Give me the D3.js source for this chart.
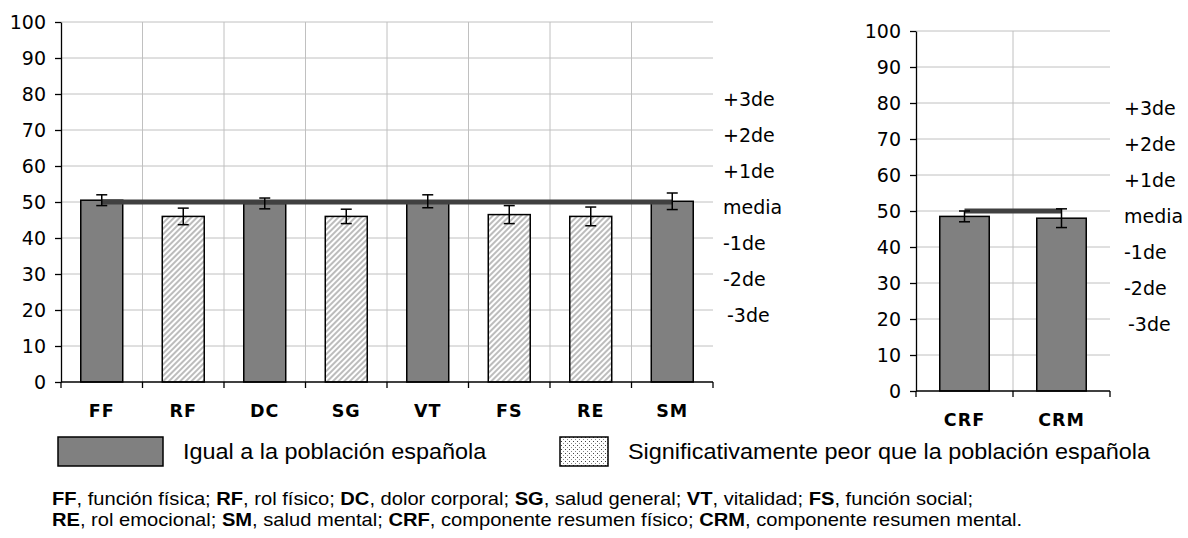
<!DOCTYPE html>
<html>
<head>
<meta charset="utf-8">
<script src="https://cdn.jsdelivr.net/npm/d3@7"></script>
<style>
  body { margin: 0; background: #fff; }
  svg text { fill: #000; }
</style>
</head>
<body>
<div id="chart"></div>
<script>
// dimensiones del cuestionario SF-36
const categories = ['FF', 'RF', 'DC', 'SG', 'VT', 'FS', 'RE', 'SM'];
const values = [50.5, 46, 49.6, 46, 50.2, 46.5, 46, 50.2];
const errors = [1.5, 2.3, 1.5, 2.0, 1.8, 2.5, 2.6, 2.3];
const groups = ['igual', 'peor', 'igual', 'peor', 'igual', 'peor', 'peor', 'igual'];

// componentes resumen
const summaryCategories = ['CRF', 'CRM'];
const summaryValues = [48.5, 48];
const summaryErrors = [1.5, 2.6];
const summaryGroups = ['igual', 'igual'];

const yTicks = [0, 10, 20, 30, 40, 50, 60, 70, 80, 90, 100];
const sdLabels = ['+3de', '+2de', '+1de', 'media', '-1de', '-2de', '-3de'];
const sdValues = [80, 70, 60, 50, 40, 30, 20];
const meanValue = 50;

const legendLabels = ['Igual a la población española', 'Significativamente peor que la población española'];
const footerLines = [
  [['FF', ', función física; '], ['RF', ', rol físico; '], ['DC', ', dolor corporal; '], ['SG', ', salud general; '], ['VT', ', vitalidad; '], ['FS', ', función social;']],
  [['RE', ', rol emocional; '], ['SM', ', salud mental; '], ['CRF', ', componente resumen físico; '], ['CRM', ', componente resumen mental.']]
];

const W = 1188, H = 538;
const svg = d3.select('#chart').append('svg')
  .attr('width', W)
  .attr('height', H);

const defs = svg.append('defs');
defs.append('pattern')
  .attr('id', 'hatch')
  .attr('patternUnits', 'userSpaceOnUse')
  .attr('width', 4).attr('height', 4)
  .attr('patternTransform', 'rotate(45)')
  .call(p => {
    p.append('rect').attr('width', 4).attr('height', 4).attr('fill', '#fff');
    p.append('line').attr('x1', 1).attr('y1', 0).attr('x2', 1).attr('y2', 4)
      .attr('stroke', '#a0a0a0').attr('stroke-width', 1.4);
  });
defs.append('pattern')
  .attr('id', 'dots')
  .attr('patternUnits', 'userSpaceOnUse')
  .attr('width', 4).attr('height', 4)
  .call(p => {
    p.append('rect').attr('width', 4).attr('height', 4).attr('fill', '#fff');
    p.append('rect').attr('x', 1).attr('y', 1).attr('width', 1).attr('height', 1).attr('fill', '#444');
    p.append('rect').attr('x', 3).attr('y', 3).attr('width', 1).attr('height', 1).attr('fill', '#888');
  });

const fillFor = g => g === 'peor' ? 'url(#hatch)' : '#808080';

function drawPanel(cfg) {
  const { x0, x1, yTop, yBottom, cats, vals, errs, grps, pad, labelX } = cfg;

  const x = d3.scaleBand().domain(cats).range([x0, x1])
    .paddingInner(pad).paddingOuter(pad / 2);
  const y = d3.scaleLinear().domain([0, 100]).range([yBottom, yTop]);
  const g = svg.append('g');

  // rejilla
  g.append('g').selectAll('line.h')
    .data(yTicks.filter(t => t > 0))
    .join('line')
    .attr('x1', x0).attr('x2', x1)
    .attr('y1', d => y(d)).attr('y2', d => y(d))
    .attr('stroke', '#c0c0c0').attr('stroke-width', 1);
  const bounds = d3.range(1, cats.length).map(i => x0 + i * x.step());
  g.append('g').selectAll('line.v')
    .data(bounds)
    .join('line')
    .attr('x1', d => d).attr('x2', d => d)
    .attr('y1', yTop).attr('y2', yBottom)
    .attr('stroke', '#c0c0c0').attr('stroke-width', 1);

  // eje y
  const yAxis = g.append('g')
    .attr('transform', `translate(${x0},0)`)
    .call(d3.axisLeft(y).tickValues(yTicks).tickSize(6).tickPadding(9).tickSizeOuter(0));
  yAxis.select('.domain').attr('stroke', '#000').attr('stroke-width', 1.3);
  yAxis.selectAll('.tick line').attr('stroke', '#000').attr('stroke-width', 1.3);
  yAxis.selectAll('.tick text')
    .attr('font-family', 'DejaVu Sans, Verdana, sans-serif')
    .attr('font-size', 19)
    .attr('fill', '#000');

  // barras
  g.append('g').selectAll('rect')
    .data(cats)
    .join('rect')
    .attr('x', d => x(d))
    .attr('width', x.bandwidth())
    .attr('y', (d, i) => y(vals[i]))
    .attr('height', (d, i) => y(0) - y(vals[i]))
    .attr('fill', (d, i) => fillFor(grps[i]))
    .attr('stroke', '#000')
    .attr('stroke-width', 1.5);

  // eje x
  g.append('line')
    .attr('x1', x0).attr('x2', x1)
    .attr('y1', y(0)).attr('y2', y(0))
    .attr('stroke', '#000').attr('stroke-width', 1.3);
  g.append('g').selectAll('line')
    .data(d3.range(0, cats.length + 1).map(i => x0 + i * x.step()))
    .join('line')
    .attr('x1', d => d).attr('x2', d => d)
    .attr('y1', y(0)).attr('y2', y(0) + 6)
    .attr('stroke', '#000').attr('stroke-width', 1.3);
  g.append('g').selectAll('text')
    .data(cats)
    .join('text')
    .attr('x', d => x(d) + x.bandwidth() / 2)
    .attr('y', y(0) + 29)
    .attr('text-anchor', 'middle')
    .attr('dominant-baseline', 'central')
    .attr('font-family', 'DejaVu Sans, Verdana, sans-serif')
    .attr('font-weight', 'bold')
    .attr('font-size', 17.5)
    .attr('letter-spacing', 1)
    .text(d => d);

  // línea de la media
  const cx = d => x(d) + x.bandwidth() / 2;
  g.append('line')
    .attr('x1', cx(cats[0])).attr('x2', cx(cats[cats.length - 1]))
    .attr('y1', y(meanValue)).attr('y2', y(meanValue))
    .attr('stroke', '#404040')
    .attr('stroke-width', 5);

  // barras de error
  const eb = g.append('g').selectAll('g')
    .data(cats)
    .join('g')
    .attr('stroke', '#000')
    .attr('stroke-width', 1.5);
  eb.append('line')
    .attr('x1', d => cx(d)).attr('x2', d => cx(d))
    .attr('y1', (d, i) => y(vals[i] + errs[i]))
    .attr('y2', (d, i) => y(vals[i] - errs[i]));
  [1, -1].forEach(s => {
    eb.append('line')
      .attr('x1', d => cx(d) - 5.5).attr('x2', d => cx(d) + 5.5)
      .attr('y1', (d, i) => y(vals[i] + s * errs[i]))
      .attr('y2', (d, i) => y(vals[i] + s * errs[i]));
  });

  // etiquetas de desviación estándar
  g.append('g').selectAll('text')
    .data(sdLabels)
    .join('text')
    .attr('x', (d, i) => labelX + (d === '-3de' ? 4 : 0))
    .attr('y', (d, i) => y(sdValues[i]) + 5)
    .attr('dominant-baseline', 'central')
    .attr('font-family', 'DejaVu Sans, Verdana, sans-serif')
    .attr('font-size', 19)
    .text(d => d);
}

drawPanel({
  x0: 61, x1: 713, yTop: 22, yBottom: 382,
  cats: categories, vals: values, errs: errors, grps: groups,
  pad: 0.485, labelX: 723
});

drawPanel({
  x0: 916, x1: 1110, yTop: 31, yBottom: 391,
  cats: summaryCategories, vals: summaryValues, errs: summaryErrors, grps: summaryGroups,
  pad: 0.49, labelX: 1124
});

// leyenda (texto algo ensanchado, como en el original)
const legend = svg.append('g');
const legendItems = [
  { box: [58, 437, 105, 29], fill: '#808080', tx: 183, label: legendLabels[0] },
  { box: [560, 437, 48, 29], fill: 'url(#dots)', tx: 628, label: legendLabels[1] }
];
legendItems.forEach(it => {
  legend.append('rect')
    .attr('x', it.box[0]).attr('y', it.box[1])
    .attr('width', it.box[2]).attr('height', it.box[3])
    .attr('fill', it.fill)
    .attr('stroke', '#000').attr('stroke-width', 1.5);
  legend.append('text')
    .attr('transform', `translate(${it.tx},${it.box[1] + it.box[3] / 2}) scale(1.1,1)`)
    .attr('dominant-baseline', 'central')
    .attr('font-family', 'Liberation Sans, Arial, sans-serif')
    .attr('font-size', 21.3)
    .text(it.label);
});

// nota al pie
const foot = svg.append('g')
  .attr('font-family', 'Liberation Sans, Arial, sans-serif')
  .attr('font-size', 17.5);
footerLines.forEach((line, li) => {
  const t = foot.append('text')
    .attr('transform', `translate(52,${505 + li * 21}) scale(1.15,1)`);
  line.forEach(([abbr, desc]) => {
    t.append('tspan').attr('font-weight', 'bold').text(abbr);
    t.append('tspan').text(desc);
  });
});
</script>
</body>
</html>
